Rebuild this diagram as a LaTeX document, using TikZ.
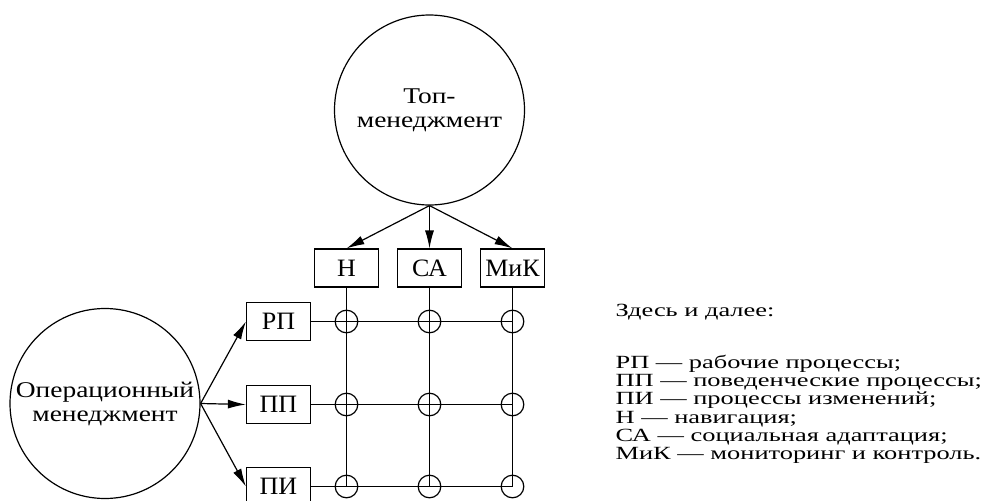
\documentclass[tikz,border=0pt]{standalone}
\usepackage{fontspec}
\setmainfont{Liberation Serif}
\newfontfamily\circfont[FakeStretch=1.22]{Liberation Serif}
\newfontfamily\legfont[FakeStretch=1.42]{Liberation Serif}
\newfontfamily\boxfont[FakeStretch=1.04]{Liberation Serif}
\usetikzlibrary{arrows.meta}
\begin{document}
\begin{tikzpicture}[x=1pt,y=-1pt,
  line width=1.2pt,
  bigc/.style={draw,circle,minimum size=190pt,inner sep=0pt,align=center,font=\circfont\fontsize{22.5}{24}\selectfont},
  box/.style={draw,minimum width=64pt,minimum height=38pt,inner sep=0pt,font=\boxfont\fontsize{25}{25}\selectfont},
  smallc/.style={draw,circle,minimum size=22.6pt,inner sep=0pt},
  arr/.style={-{Latex[length=18pt,width=9pt]}},
  leg/.style={anchor=base west,inner sep=0pt,font=\legfont\fontsize{18.6}{18.3}\selectfont}]
\useasboundingbox (0,0) rectangle (986,501);
\clip (0,0) rectangle (986,501);
\node[bigc] (top) at (429.5,110) {Топ-\\менеджмент};
\node[bigc] (op) at (105,403.5) {Операционный\\менеджмент};
\node[box] (N) at (346.5,268) {Н};
\node[box] (SA) at (429.5,268) {СА};
\node[box] (MK) at (512.5,268) {МиК};
\node[box] (RP) at (278.5,321.5) {РП};
\node[box] (PP) at (278.5,404.5) {ПП};
\node[box] (PI) at (278.5,486.5) {ПИ};
\foreach \r/\y in {1/321.5,2/404.5,3/486.5}{
  \foreach \c/\x in {1/346.5,2/429.5,3/512.5}{
    \node[smallc] (c\r\c) at (\x,\y) {};
  }
}
\draw (N.south) -- (c31.center);
\draw (SA.south) -- (c32.center);
\draw (MK.south) -- (c33.center);
\draw (RP.east) -- (c13.center);
\draw (PP.east) -- (c23.center);
\draw (PI.east) -- (c33.center);
\draw[arr] (top.south) -- (N.north);
\draw[arr] (top.south) -- (SA.north);
\draw[arr] (top.south) -- (MK.north);
\draw[arr] (op.east) -- (RP.west);
\draw[arr] (op.east) -- (PP.west);
\draw[arr] (op.east) -- (PI.west);
\node[leg] (l0) at (615,316) {Здесь и далее:};
\node[leg] (l1) at (615,368.3) {РП — рабочие процессы;};
\node[leg] (l2) at (615,386.6) {ПП — поведенческие процессы;};
\node[leg] (l3) at (615,404.9) {ПИ — процессы изменений;};
\node[leg] (l4) at (615,423.2) {Н — навигация;};
\node[leg] (l5) at (615,441.5) {СА — социальная адаптация;};
\node[leg] (l6) at (615,459.8) {МиК — мониторинг и контроль.};
\end{tikzpicture}
\end{document}
